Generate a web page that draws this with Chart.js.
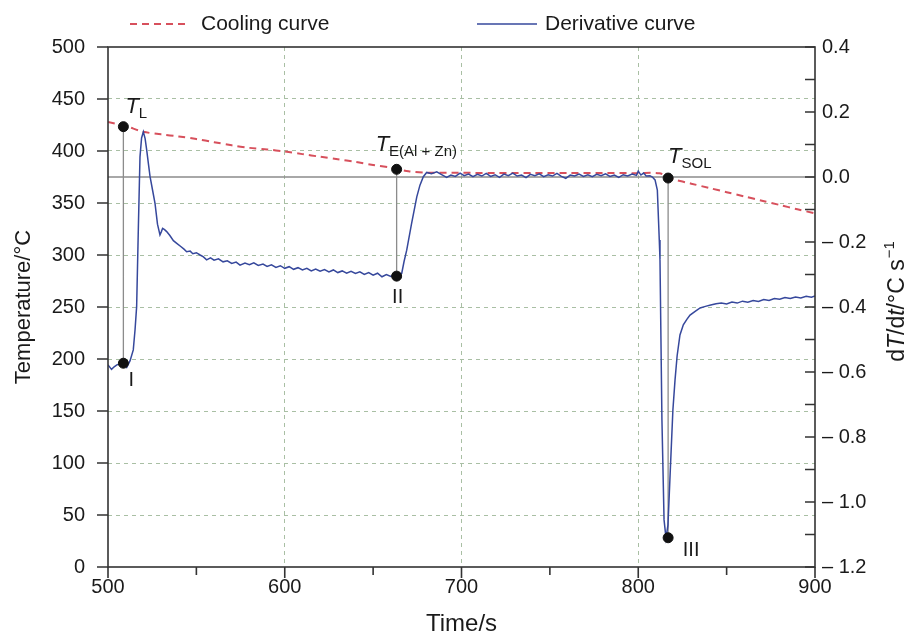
<!DOCTYPE html>
<html>
<head>
<meta charset="utf-8">
<script src="https://cdn.jsdelivr.net/npm/chart.js@4.4.0/dist/chart.umd.min.js"></script>
<style>
  html, body { margin: 0; padding: 0; background: #fff; }
</style>
</head>
<body>
<canvas id="chart" width="914" height="639"></canvas>
<script>
// Cooling curve (left axis, temperature in °C)
const coolTime = [500, 510, 520, 530, 540, 550, 560, 570, 580, 590, 600, 610, 620, 630, 640, 650, 660, 670, 680,
  700, 720, 740, 760, 780, 800, 812, 817, 820, 830, 840, 850, 860, 870, 880, 890, 900];
const coolTemp = [428, 424, 418.5, 416, 414, 411.5, 408.5, 405.5, 403, 401.5, 399.5, 397, 394.5, 392, 389.5, 386.5, 384, 380.5, 379.2,
  379, 378.9, 378.8, 378.8, 378.8, 378.7, 378.6, 374.5, 372.7, 368.6, 364.5, 360.4, 356.3, 352.2, 348.1, 344, 340];

// Derivative curve (right axis, dT/dt in °C/s)
const derivTime = [500, 501, 502, 503.5, 505, 507, 508.5, 510.6, 512.5, 514.3, 515.3, 516.2, 517.2, 518.1, 519, 520, 521, 521.9,
  523, 523.8, 525.2, 526.6, 528, 529.4, 530.2, 530.9, 532, 533.2, 535, 537, 538.9, 541, 543, 544.5, 546.5, 548, 550, 552.1,
  554, 555.8, 558, 560, 562.5, 565.1, 567.5, 570, 572.5, 574.7, 577.5, 580, 582.5, 585, 587.7, 590, 592.5, 595, 597.5, 600,
  602.5, 605, 607.5, 610, 612.5, 615, 617.5, 620, 622.5, 625, 627.5, 630, 632.5, 635, 637.5, 640, 642.5, 645, 647.5, 650,
  652.5, 655, 657.5, 660, 661.5, 663, 664.5, 666.2, 667.5, 669, 671.8, 674.7, 676.5, 678.4, 680.3, 683, 686, 688.5, 691.6,
  694, 696.5, 699.2, 701.5, 704, 706.5, 709, 711.5, 714, 716.5, 719, 721.5, 724, 726.5, 729, 731.5, 734, 736.5, 739, 741.5,
  744, 746.5, 749, 751.5, 754, 756.5, 759, 761.5, 764, 766.5, 769, 771.5, 774, 776.5, 779, 781.5, 784, 786.5, 789, 791.5,
  794, 796.5, 799, 800, 801.5, 803, 804.5, 806.6, 808, 809.5, 810.8, 811.9, 812.3, 813.4, 814.6, 815.7, 816.8, 817.9, 819.6,
  820.8, 822, 823.6, 825.5, 827.5, 829.3, 832, 835, 838, 841, 844, 847, 850, 853, 856, 859, 862, 865, 868, 871, 874, 877,
  880, 883, 886, 889, 892, 895, 898, 900];
const derivRate = [-0.578, -0.585, -0.592, -0.584, -0.578, -0.575, -0.572, -0.586, -0.565, -0.532, -0.47, -0.399, -0.15, 0.062, 0.12, 0.139, 0.118, 0.083,
  0.035, 0.001, -0.04, -0.081, -0.145, -0.178, -0.168, -0.158, -0.162, -0.168, -0.18, -0.196, -0.204, -0.213, -0.222, -0.23, -0.228, -0.236, -0.233, -0.24,
  -0.246, -0.255, -0.249, -0.256, -0.252, -0.261, -0.258, -0.266, -0.262, -0.271, -0.265, -0.27, -0.264, -0.272, -0.268, -0.275, -0.27, -0.278, -0.273, -0.281,
  -0.276, -0.284, -0.279, -0.286, -0.281, -0.289, -0.283, -0.29, -0.285, -0.292, -0.286, -0.294, -0.289, -0.296, -0.29, -0.297, -0.292, -0.3, -0.294, -0.302,
  -0.296, -0.307, -0.3, -0.306, -0.302, -0.305, -0.303, -0.296, -0.26, -0.225, -0.142, -0.061, -0.025, 0.001, 0.014, 0.01, 0.016, 0.008, -0.001,
  0.006, 0.002, 0.012, 0.004, 0.009, 0.001, 0.008, 0.003, 0.011, 0.002, 0.007, -0.001, 0.009, 0.004, 0.012, 0.003, 0.006, -0.002, 0.008, 0.004,
  0.01, 0.001, 0.007, 0.003, 0.011, 0.002, -0.004, 0.006, 0.003, 0.009, 0.002, 0.007, 0.001, 0.008, 0.004, 0.01, 0.002, 0.006, -0.001, 0.007,
  0.003, 0.009, 0.005, 0.018, 0.006, 0.012, 0.003, 0.004, 0.0, -0.009, -0.04, -0.194, -0.255, -0.748, -1.055, -1.111, -1.071, -0.932, -0.717,
  -0.625, -0.55, -0.486, -0.455, -0.438, -0.425, -0.414, -0.403, -0.398, -0.394, -0.39, -0.388, -0.391, -0.385, -0.388, -0.382, -0.385, -0.38, -0.383, -0.377, -0.38, -0.374,
  -0.376, -0.371, -0.374, -0.369, -0.372, -0.367, -0.37, -0.366];

// Characteristic points: T_L / I, T_E / II, T_SOL / III
const markerTime = [508.7, 663.3, 816.9];
const upperTemp = [423.4, 382.4, 374.0];
const upperSub = ['L', 'E(Al + Zn)', 'SOL'];
const lowerRate = [-0.573, -0.305, -1.11];
const lowerName = ['I', 'II', 'III'];

const FONT = "'Liberation Sans', Arial, Helvetica, sans-serif";
const ink = '#1a1a1a';
const gridColor = '#a9bfa4';
const guideColor = '#8c8c8c';

const toPoints = (xs, ys) => xs.map((v, i) => ({ x: v, y: ys[i] }));

// Frame, ticks, guide lines, legend and annotations
const decorations = {
  id: 'decorations',
  beforeDatasetsDraw(chart) {
    const { ctx, chartArea: a, scales } = chart;
    const { x, yTemp, yRate } = scales;
    ctx.save();
    ctx.strokeStyle = guideColor;
    ctx.lineWidth = 1.3;
    ctx.beginPath();
    const y0 = yRate.getPixelForValue(0);
    ctx.moveTo(a.left, y0);
    ctx.lineTo(a.right, y0);
    markerTime.forEach((t, i) => {
      const px = x.getPixelForValue(t);
      ctx.moveTo(px, yTemp.getPixelForValue(upperTemp[i]));
      ctx.lineTo(px, yRate.getPixelForValue(lowerRate[i]));
    });
    ctx.stroke();
    ctx.restore();
  },
  afterDraw(chart) {
    const { ctx, chartArea: a, scales } = chart;
    const { x, yTemp, yRate } = scales;
    ctx.save();

    // plot frame and tick marks
    ctx.strokeStyle = '#333';
    ctx.lineWidth = 1.6;
    ctx.strokeRect(a.left, a.top, a.right - a.left, a.bottom - a.top);
    ctx.beginPath();
    x.ticks.forEach(t => {
      const px = x.getPixelForValue(t.value);
      const len = t.value % 100 === 0 ? 11 : 8;
      ctx.moveTo(px, a.bottom);
      ctx.lineTo(px, a.bottom + len);
    });
    yTemp.ticks.forEach(t => {
      const py = yTemp.getPixelForValue(t.value);
      const len = t.value % 50 === 0 ? 11 : 7;
      ctx.moveTo(a.left - len, py);
      ctx.lineTo(a.left, py);
    });
    yRate.ticks.forEach(t => {
      const py = yRate.getPixelForValue(t.value);
      ctx.moveTo(a.right - 10, py);
      ctx.lineTo(a.right, py);
    });
    ctx.stroke();

    // point labels
    ctx.fillStyle = ink;
    ctx.textBaseline = 'alphabetic';
    ctx.textAlign = 'left';
    const tOffsets = [[2, -14], [-21, -18], [0, -15]];
    markerTime.forEach((t, i) => {
      const px = x.getPixelForValue(t) + tOffsets[i][0];
      const py = yTemp.getPixelForValue(upperTemp[i]) + tOffsets[i][1];
      ctx.font = 'italic 22px ' + FONT;
      ctx.fillText('T', px, py);
      const w = ctx.measureText('T').width;
      ctx.font = '15px ' + FONT;
      ctx.fillText(upperSub[i], px + w, py + 5);
    });
    const nOffsets = [[8, 17], [1, 21], [23, 13]];
    ctx.font = '20px ' + FONT;
    ctx.textAlign = 'center';
    ctx.textBaseline = 'middle';
    markerTime.forEach((t, i) => {
      ctx.fillText(lowerName[i], x.getPixelForValue(t) + nOffsets[i][0],
        yRate.getPixelForValue(lowerRate[i]) + nOffsets[i][1]);
    });

    // legend
    const [cool, deriv] = chart.data.datasets;
    const items = [[cool, 130, 201], [deriv, 477, 545]];
    const ly = 24;
    items.forEach(([ds, x0, tx]) => {
      ctx.strokeStyle = ds.borderColor;
      ctx.lineWidth = ds.borderWidth;
      ctx.setLineDash(ds.borderDash || []);
      ctx.beginPath();
      ctx.moveTo(x0, ly);
      ctx.lineTo(x0 + 60, ly);
      ctx.stroke();
      ctx.setLineDash([]);
      ctx.font = '21px ' + FONT;
      ctx.textAlign = 'left';
      ctx.fillStyle = ink;
      ctx.fillText(ds.label, tx, ly);
    });

    // right axis title: dT/dt/°C s^-1
    const parts = [['d', ''], ['T', 'italic '], ['/d', ''], ['t', 'italic '], ['/\u00b0C s', '']];
    ctx.translate(898, 302);
    ctx.rotate(-Math.PI / 2);
    ctx.textBaseline = 'middle';
    ctx.textAlign = 'left';
    let total = 0;
    parts.forEach(([s, st]) => { ctx.font = st + '23px ' + FONT; total += ctx.measureText(s).width; });
    ctx.font = '15px ' + FONT;
    total += ctx.measureText('\u22121').width;
    let cx = -total / 2;
    parts.forEach(([s, st]) => {
      ctx.font = st + '23px ' + FONT;
      ctx.fillText(s, cx, 0);
      cx += ctx.measureText(s).width;
    });
    ctx.font = '15px ' + FONT;
    ctx.fillText('\u22121', cx + 1, -8);
    ctx.restore();
  }
};

new Chart(document.getElementById('chart').getContext('2d'), {
  type: 'line',
  data: {
    datasets: [
      {
        label: 'Cooling curve',
        data: toPoints(coolTime, coolTemp),
        yAxisID: 'yTemp',
        borderColor: '#d7505c',
        borderWidth: 2,
        borderDash: [7, 5],
        pointRadius: 0,
        tension: 0.3,
        order: 2
      },
      {
        label: 'Derivative curve',
        data: toPoints(derivTime, derivRate),
        yAxisID: 'yRate',
        borderColor: '#36489c',
        borderWidth: 1.5,
        pointRadius: 0,
        tension: 0,
        order: 1
      },
      {
        type: 'scatter',
        label: 'Temperature points',
        data: toPoints(markerTime, upperTemp),
        yAxisID: 'yTemp',
        pointRadius: 5,
        backgroundColor: '#111',
        borderColor: '#111',
        order: 0
      },
      {
        type: 'scatter',
        label: 'Derivative points',
        data: toPoints(markerTime, lowerRate),
        yAxisID: 'yRate',
        pointRadius: 5,
        backgroundColor: '#111',
        borderColor: '#111',
        order: 0
      }
    ]
  },
  options: {
    responsive: false,
    animation: false,
    layout: { padding: { top: 47, left: 0, right: 0, bottom: 0 } },
    plugins: {
      legend: { display: false },
      tooltip: { enabled: false }
    },
    scales: {
      x: {
        type: 'linear',
        min: 500,
        max: 900,
        afterFit: s => { s.height = 72; },
        border: { display: false, dash: [4, 4] },
        grid: {
          drawTicks: false,
          lineWidth: 1,
          color: c => (c.tick && c.tick.value % 100 === 0 && c.tick.value > 500 && c.tick.value < 900) ? gridColor : 'rgba(0,0,0,0)'
        },
        ticks: {
          stepSize: 50,
          padding: 8,
          color: ink,
          font: { family: FONT, size: 20 },
          callback: v => (v % 100 === 0 ? String(v) : '')
        },
        title: {
          display: true,
          text: 'Time/s',
          color: ink,
          font: { family: FONT, size: 24 },
          padding: { top: 0, bottom: 0 }
        }
      },
      yTemp: {
        type: 'linear',
        position: 'left',
        min: 0,
        max: 500,
        afterFit: s => { s.width = 108; },
        border: { display: false, dash: [4, 4] },
        grid: {
          drawTicks: false,
          lineWidth: 1,
          color: c => (c.tick && c.tick.value % 50 === 0 && c.tick.value > 0 && c.tick.value < 500) ? gridColor : 'rgba(0,0,0,0)'
        },
        ticks: {
          stepSize: 25,
          padding: 23,
          color: ink,
          font: { family: FONT, size: 20 },
          callback: v => (v % 50 === 0 ? String(v) : '')
        },
        title: {
          display: true,
          text: 'Temperature/\u00b0C',
          color: ink,
          font: { family: FONT, size: 22 },
          padding: { top: 11, bottom: 0 }
        }
      },
      yRate: {
        type: 'linear',
        position: 'right',
        min: -1.2,
        max: 0.4,
        afterFit: s => { s.width = 99; },
        border: { display: false },
        grid: { drawOnChartArea: false, drawTicks: false },
        ticks: {
          stepSize: 0.1,
          padding: 7,
          color: ink,
          font: { family: FONT, size: 20 },
          callback: v => {
            const k = Math.round(v * 10);
            if (k % 2 !== 0) return '';
            if (k === 0) return '0.0';
            return k < 0 ? '\u2013 ' + (-k / 10).toFixed(1) : (k / 10).toFixed(1);
          }
        }
      }
    }
  },
  plugins: [decorations]
});
</script>
</body>
</html>
